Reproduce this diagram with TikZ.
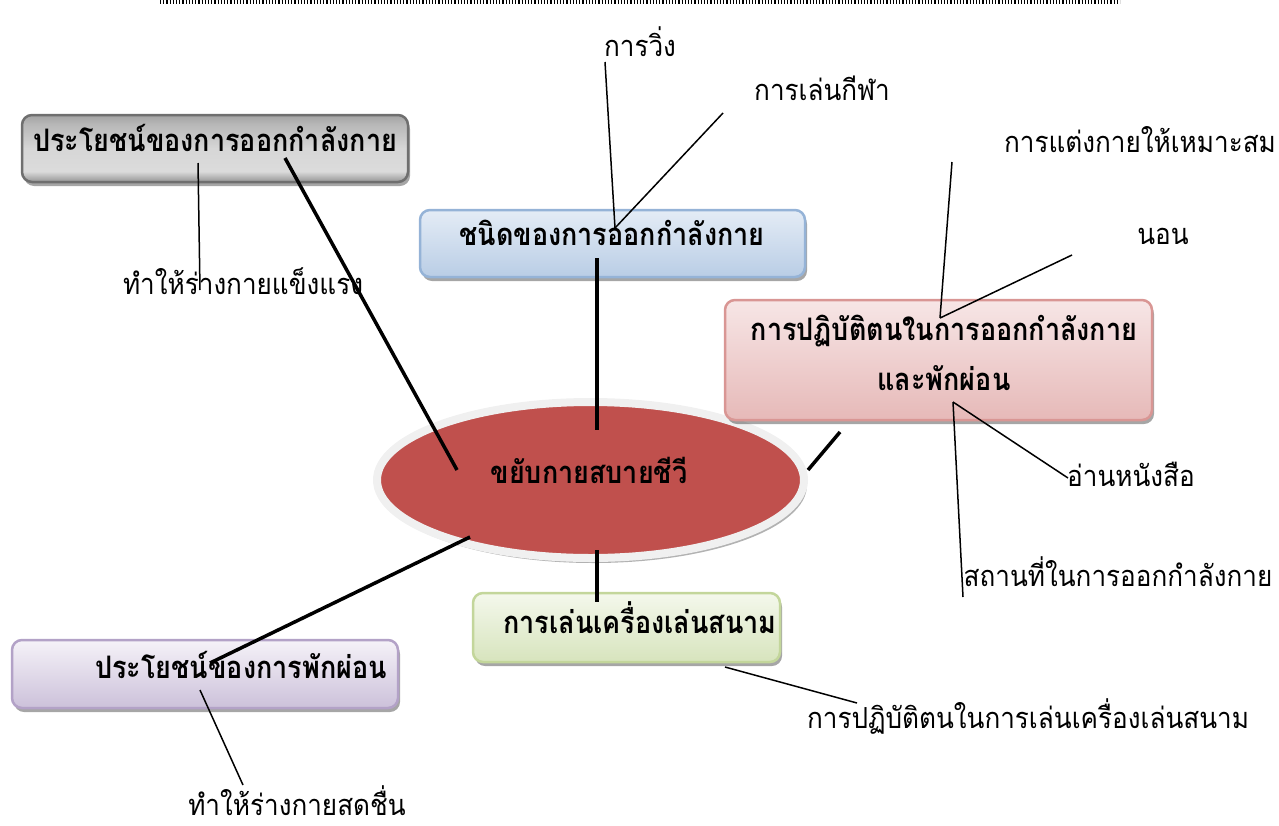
\documentclass[tikz,border=0pt]{standalone}
\usepackage{fontspec}
\newfontfamily\thai[Script=Thai, FakeStretch=0.9]{Loma}
\newfontfamily\thaib[Script=Thai, FakeStretch=0.87]{Loma}
\usetikzlibrary{shadows,calc,shapes.geometric}
\definecolor{grayline}{HTML}{6F6F6F}
\definecolor{bluetop}{HTML}{E4ECF6}
\definecolor{bluebot}{HTML}{B9CDE5}
\definecolor{blueline}{HTML}{95B3D7}
\definecolor{pinktop}{HTML}{F7E6E6}
\definecolor{pinkbot}{HTML}{E6B9B8}
\definecolor{pinkline}{HTML}{D99694}
\definecolor{greentop}{HTML}{F4F8EC}
\definecolor{greenbot}{HTML}{D7E4BD}
\definecolor{greenline}{HTML}{C3D69B}
\definecolor{purtop}{HTML}{F5F2F8}
\definecolor{purbot}{HTML}{CCC1DA}
\definecolor{purline}{HTML}{B3A2C7}
\definecolor{ellred}{HTML}{C0504D}
\definecolor{ellrim}{HTML}{F0F0F0}
\pgfdeclareverticalshading{grayshade}{100bp}{%
  color(0bp)=(black!42); color(25bp)=(black!42); color(33bp)=(black!14);
  color(50bp)=(black!16); color(68bp)=(black!28); color(75bp)=(black!36); color(100bp)=(black!36)}
\begin{document}
\begin{tikzpicture}[x=1pt,y=-1pt,
  boxbase/.style={rectangle, rounded corners=10pt, line width=2.5pt,
    drop shadow={shadow xshift=2pt, shadow yshift=-4pt, fill=black, opacity=0.35}},
  boldtext/.style={font=\thaib\bfseries\fontsize{31}{50}\selectfont, inner sep=0pt, align=center},
  labeltext/.style={font=\thai\fontsize{29}{34}\selectfont, inner sep=0pt},
  thickline/.style={line width=3.5pt},
  thinline/.style={line width=1.5pt}]
\useasboundingbox (0,0) rectangle (1279,825);
% top dotted rule
\coordinate (dl) at (160,2);
\coordinate (dr) at (1120,2);
\draw[line width=3.5pt, dash pattern=on 1.2pt off 2pt] (dl) -- (dr);

% central ellipse
\node[ellipse, minimum width=427pt, minimum height=156pt, fill=ellred, draw=ellrim, line width=8pt,
  drop shadow={shadow xshift=3pt, shadow yshift=-5pt, fill=black, opacity=0.3}] (ell) at (590.5,480) {};

% boxes
\node[boxbase, draw=grayline, shading=grayshade,
  minimum width=386pt, minimum height=67pt] (b1) at (215,148.5) {};
\node[boxbase, draw=blueline, top color=bluetop, bottom color=bluebot,
  minimum width=385pt, minimum height=67pt] (b2) at (612.5,243.5) {};
\node[boxbase, draw=pinkline, top color=pinktop, bottom color=pinkbot,
  minimum width=427pt, minimum height=120pt] (b3) at (938.5,360) {};
\node[boxbase, draw=greenline, top color=greentop, bottom color=greenbot,
  minimum width=307pt, minimum height=69pt] (b4) at (626.5,627.5) {};
\node[boxbase, draw=purline, top color=purtop, bottom color=purbot,
  minimum width=386pt, minimum height=68pt] (b5) at (205,674) {};

% box texts
\node[boldtext] (t1) at (215,138) {ประโยชน์ของการออกกำลังกาย};
\node[boldtext] (t2) at (612,233) {ชนิดของการออกกำลังกาย};
\node[boldtext] (t3) at (944,353) {การปฏิบัติตนในการออกกำลังกาย\\และพักผ่อน};
\node[boldtext] (t4) at (640,618) {การเล่นเครื่องเล่นสนาม};
\node[boldtext] (t5) at (241,665) {ประโยชน์ของการพักผ่อน};
\node[boldtext] (te) at (589,470) {ขยับกายสบายชีวี};

% labels
\node[labeltext] (l1) at (640,42) {การวิ่ง};
\node[labeltext] (l2) at (822,88) {การเล่นกีฬา};
\node[labeltext] (l3) at (1140,140) {การแต่งกายให้เหมาะสม};
\node[labeltext] (l4) at (1163,236) {นอน};
\node[labeltext] (l5) at (243,281) {ทำให้ร่างกายแข็งแรง};
\node[labeltext] (l6) at (1131,474) {อ่านหนังสือ};
\node[labeltext] (l7) at (1118,572) {สถานที่ในการออกกำลังกาย};
\node[labeltext] (l8) at (1028,717) {การปฏิบัติตนในการเล่นเครื่องเล่นสนาม};
\node[labeltext] (l9) at (297,801) {ทำให้ร่างกายสดชื่น};

% thick connectors
\draw[thickline] ($(b1.center)+(70,9.5)$) -- ($(ell.center)+(-133.5,-10)$);
\draw[thickline] ($(b2.center)+(-15.5,14.5)$) -- ($(ell.center)+(6.5,-50)$);
\draw[thickline] ($(b3.center)+(-98.5,72)$) -- ($(ell.center)+(217.5,-10)$);
\draw[thickline] ($(ell.center)+(-120.5,57)$) -- ($(b5.center)+(5,-11)$);
\draw[thickline] ($(ell.center)+(6.5,70)$) -- ($(b4.center)+(-29.5,-25.5)$);

% thin connectors
\draw[thinline] ($(b1.center)+(-17,14.5)$) -- ($(l5.center)+(-43,9)$);
\draw[thinline] ($(l1.center)+(-35,20)$) -- ($(b2.center)+(2.5,-15.5)$);
\draw[thinline] ($(l2.center)+(-99,25)$) -- ($(b2.center)+(2.5,-15.5)$);
\draw[thinline] ($(l3.center)+(-188,22)$) -- ($(b3.center)+(1.5,-42)$);
\draw[thinline] ($(l4.center)+(-91,19)$) -- ($(b3.center)+(1.5,-42)$);
\draw[thinline] ($(b3.center)+(14.5,42)$) -- ($(l6.center)+(-63,4)$);
\draw[thinline] ($(b3.center)+(14.5,42)$) -- ($(l7.center)+(-155,25)$);
\draw[thinline] ($(b4.center)+(98.5,39.5)$) -- ($(l8.center)+(-171,-14)$);
\draw[thinline] ($(b5.center)+(-5,16)$) -- ($(l9.center)+(-54,-16)$);
\end{tikzpicture}
\end{document}
